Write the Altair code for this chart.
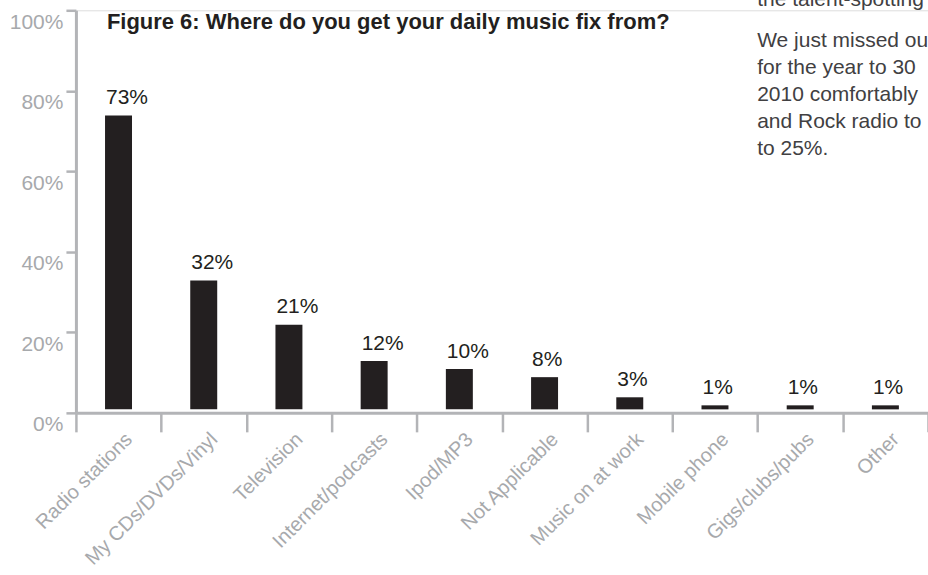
import altair as alt
import pandas as pd

categories = ["Radio stations", "My CDs/DVDs/Vinyl", "Television", "Internet/podcasts",
              "Ipod/MP3", "Not Applicable", "Music on at work", "Mobile phone",
              "Gigs/clubs/pubs", "Other"]
values = [73, 32, 21, 12, 10, 8, 3, 1, 1, 1]
title_text = "Figure 6: Where do you get your daily music fix from?"
side_para1 = ["the talent-spotting"]
side_para2 = ["We just missed ou", "for the year to 30", "2010 comfortably",
              "and Rock radio to", "to 25%."]
y_ticks = [0, 20, 40, 60, 80, 100]

FONT = "Liberation Sans"
GRAY = "#a7a9ac"
AXIS = "#b3b4b7"
DARK = "#231f20"

df = pd.DataFrame({"cat": categories, "val": values})
df["lab"] = [f"{v}%" for v in values]

x = alt.X("cat:N", sort=categories, scale=alt.Scale(paddingInner=0, paddingOuter=0),
          axis=alt.Axis(title=None, tickBand="extent", tickSize=19, tickWidth=2.5,
                        tickColor=AXIS, domainColor=AXIS, domainWidth=3,
                        labelAngle=-45, labelAlign="right", labelBaseline="top",
                        labelPadding=-3, labelOffset=3, labelFontSize=20, labelColor=GRAY,
                        labelFont=FONT, labelOverlap=False))
y = alt.Y("val:Q", scale=alt.Scale(domain=[0, 100], nice=False),
          axis=alt.Axis(title=None, values=y_ticks, labelExpr="datum.value + '%'",
                        tickSize=10, tickWidth=2.5, tickColor=AXIS, domainColor=AXIS,
                        domainWidth=3, labelColor=GRAY, labelFontSize=21, labelFont=FONT,
                        labelPadding=3, labelBaseline="alphabetic", labelOffset=18,
                        grid=False, labelOverlap=False))

bars = alt.Chart(df).mark_bar(size=27, color=DARK, yOffset=-3.5, y2Offset=-3.5).encode(x=x, y=y)
labels = alt.Chart(df).mark_text(align="left", baseline="alphabetic", dx=-12.5, dy=-15,
                                 fontSize=21, font=FONT, color=DARK).encode(
    x=x, y=y, text="lab:N")

title = alt.Chart(pd.DataFrame({"t": [title_text]})).mark_text(
    align="left", baseline="alphabetic", fontSize=22, fontWeight="bold", font=FONT,
    color=DARK).encode(x=alt.value(31), y=alt.value(18.5), text="t:N")

p1 = alt.Chart(pd.DataFrame({"t": ["\n".join(side_para1)]})).mark_text(
    align="left", baseline="alphabetic", fontSize=21, font=FONT, color="#414042",
    lineBreak="\n", lineHeight=27).encode(x=alt.value(682), y=alt.value(-4), text="t:N")
p2 = alt.Chart(pd.DataFrame({"t": ["\n".join(side_para2)]})).mark_text(
    align="left", baseline="alphabetic", fontSize=21, font=FONT, color="#414042",
    lineBreak="\n", lineHeight=27).encode(x=alt.value(682), y=alt.value(36.5), text="t:N")

chart = alt.layer(bars, labels, title, p1, p2).properties(
    width=853, height=403,
    autosize=alt.AutoSizeParams(type="none"),
    padding={"left": 76, "top": 10, "right": 0, "bottom": 162},
).configure_view(stroke=None).configure(font=FONT)

chart.save("out.html", embed_options={"renderer": "svg", "actions": False})
